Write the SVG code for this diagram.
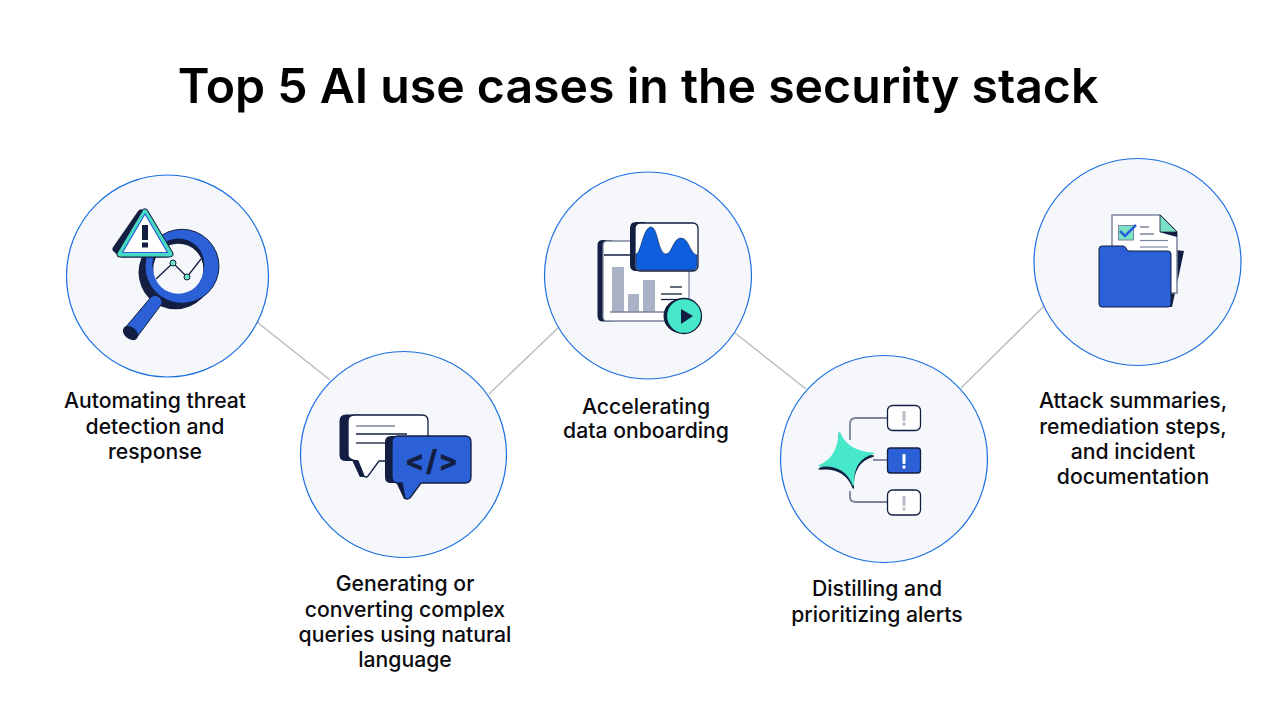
<svg xmlns="http://www.w3.org/2000/svg" width="1281" height="721" viewBox="0 0 1281 721">
<style>
.t{font-family:Inter,"Liberation Sans",sans-serif;font-size:21.200px;font-weight:500;fill:#0b0b0f;text-anchor:middle}
.c{fill:#f5f7fb;stroke:#1a6fe0;stroke-width:1.200}
.n{fill:#131f42}
.b{fill:#2b60d6}
.ln{fill:none;stroke:#131f42;stroke-width:1.300}
.g{fill:none;stroke:#7b849c;stroke-width:1.800}
.tri{stroke-linejoin:round}
</style>
<rect width="1281" height="721" fill="#fff"/>
<text x="638" y="103" style="font-family:Inter,'Liberation Sans',sans-serif;font-size:48.200px;font-weight:600;fill:#000;text-anchor:middle">Top 5 AI use cases in the security stack</text>
<g id="connectors" fill="none" stroke="#b8bac2" stroke-width="1.400">
<line x1="257" y1="322" x2="330" y2="380"/>
<line x1="489" y1="394" x2="559" y2="327"/>
<line x1="735" y1="333" x2="806" y2="389"/>
<line x1="961" y1="388" x2="1044" y2="306"/>
</g>
<g id="node1">
<circle class="c" cx="167.500" cy="276" r="101"/>
<circle class="n" cx="175.500" cy="272.300" r="37"/>
<circle class="b" cx="182" cy="266.300" r="37" stroke="#131f42" stroke-width="1"/>
<circle class="n" cx="178.300" cy="264.500" r="26"/>
<circle cx="178.300" cy="268.700" r="25" fill="#f5f7fb"/>
<path class="ln" d="M156 279L173 263L187 277L201 259"/>
<circle cx="173" cy="263" r="3" fill="#6fe3c5" stroke="#131f42"/>
<circle cx="187" cy="277" r="3" fill="#6fe3c5" stroke="#131f42"/>
<path class="b" stroke="#131f42" d="M151 297Q154 294 158 296L161 299Q163 302 161.700 304L137 337L125 328Z"/>
<ellipse class="n" cx="130.500" cy="333" rx="8.500" ry="6" transform="rotate(40 130.500 333)"/>
<path class="n tri" stroke="#131f42" stroke-width="7" d="M141 213L116 249L122 254L166 254Z"/>
<path class="tri" fill="#131f42" stroke="#131f42" stroke-width="7" d="M145 212L170 254H120Z"/>
<path class="tri" fill="#fff" stroke="#46d9c4" stroke-width="5" d="M145 212L170 254H120Z"/>
<path class="tri" fill="#fff" stroke="#2b60d6" stroke-width="1.200" d="M145 214L167.500 252.500H122.500Z"/>
<rect class="n" x="142" y="225" width="6" height="15"/>
<rect class="n" x="142" y="242.500" width="6" height="5"/>
<text class="t"><tspan x="155" y="407.500">Automating threat</tspan><tspan x="155" y="433.500">detection and</tspan><tspan x="155" y="458.500">response</tspan></text>
</g>
<g id="node2">
<circle class="c" cx="403.500" cy="454.500" r="103"/>
<path class="n" d="M346 414.500H360V460H353L362 477H360L353 461H346Q339.500 461 339.500 455V421Q339.500 414.500 346 414.500Z"/>
<path class="n" d="M352 460H366L366 477H360Z"/>
<path d="M355 415H422Q428 415 428 421V455Q428 461 422 461H379L368 476Q366 478 364 476L358 461Q348 460 348 455V421Q348 415 355 415Z" fill="#fff" stroke="#131f42" stroke-width="1.300"/>
<line x1="356" y1="426" x2="395" y2="426" stroke="#7b849c" stroke-width="1.500"/>
<line class="ln" x1="356" y1="434" x2="407" y2="434"/>
<line class="ln" x1="356" y1="443" x2="386" y2="443"/>
<path class="n" d="M391 436H405V483H391Q385 483 385 477V442Q385 436 391 436Z"/>
<path class="n" d="M396 482H408L408 499H404Z"/>
<path class="b" stroke="#131f42" stroke-width="1.300" d="M398 436H465Q471 436 471 442V477Q471 483 465 483H421L410 498Q407 500 405 498L402 483H398Q392 483 392 477V442Q392 436 398 436Z"/>
<text x="432" y="471" style="font-family:Inter,'Liberation Sans',sans-serif;font-size:29px;font-weight:800;letter-spacing:1px;fill:#131f42;text-anchor:middle">&lt;/&gt;</text>
<text class="t"><tspan x="405" y="590.500">Generating or</tspan><tspan x="405" y="616.500">converting complex</tspan><tspan x="405" y="641.500">queries using natural</tspan><tspan x="405" y="667">language</tspan></text>
</g>
<g id="node3">
<circle class="c" cx="648" cy="275.500" r="103.500"/>
<path class="n" d="M603 240H612V321.500H603Q597.500 321.500 597.500 316V245Q597.500 240 603 240Z"/>
<rect x="603" y="241" width="86" height="80" rx="4" fill="#fff" stroke="#7b849c" stroke-width="1.300"/>
<line class="ln" x1="604" y1="255" x2="640" y2="255"/>
<rect x="612" y="267" width="12" height="45" fill="#aab3c6"/>
<rect x="628" y="294" width="11" height="18" fill="#aab3c6"/>
<rect x="643" y="280" width="12" height="32" fill="#aab3c6"/>
<line x1="610" y1="312" x2="668" y2="312" stroke="#7b849c" stroke-width="1.500"/>
<line class="ln" x1="670" y1="287" x2="682" y2="287"/>
<line class="ln" x1="661" y1="294" x2="682" y2="294"/>
<line class="ln" x1="661" y1="299.500" x2="682" y2="299.500"/>
<path class="n" d="M636 222H645V271H636Q630 271 630 265V228Q630 222 636 222Z"/>
<rect x="635" y="223" width="63" height="48" rx="5" fill="#fff" stroke="#131f42" stroke-width="1.300"/>
<path d="M636 254C641 254 643 227 651 227C658 227 658 254 666 254C672 254 673 238 681 238C689 238 690 254 697 255V265Q697 270 692 270H641Q636 270 636 265Z" fill="#0d5fdd" stroke="#131f42" stroke-width=".6"/>
<circle class="n" cx="680.500" cy="316" r="17"/>
<circle cx="684" cy="316" r="17.500" fill="#46e8c9" stroke="#131f42" stroke-width="1.300"/>
<path class="n" d="M681 309L693 316L681 324Z"/>
<text class="t"><tspan x="646" y="413.500">Accelerating</tspan><tspan x="646" y="437.500">data onboarding</tspan></text>
</g>
<g id="node4">
<circle class="c" cx="884" cy="459" r="103.500"/>
<path class="g" d="M850 440V424Q850 418 856 418H887"/>
<path class="g" d="M873 460H887"/>
<path class="g" d="M850 491V497Q850 502 856 502H887"/>
<rect x="887.500" y="405.500" width="33" height="25" rx="5" fill="#fff" stroke="#131f42" stroke-width="1.300"/>
<rect x="887.500" y="448" width="33" height="25" rx="3" class="b" stroke="#131f42" stroke-width="1.300"/>
<rect x="887.500" y="490" width="33" height="25" rx="5" fill="#fff" stroke="#131f42" stroke-width="1.300"/>
<rect x="902.500" y="411" width="3" height="10" rx="1" fill="#b6bcc9"/><circle cx="904" cy="424" r="1.700" fill="#b6bcc9"/>
<rect x="902.500" y="454" width="3" height="10" rx="1" fill="#fff"/><circle cx="904" cy="467" r="1.700" fill="#fff"/>
<rect x="902.500" y="496" width="3" height="10" rx="1" fill="#b6bcc9"/><circle cx="904" cy="509" r="1.700" fill="#b6bcc9"/>
<path class="n tri" stroke="#131f42" stroke-width="1.500" d="M839.300 435Q847 455 873.300 456Q852 462 853.300 488Q845 466 819.300 469Q839 460 839.300 435Z"/>
<path class="tri" fill="#46e8c9" stroke="#46e8c9" stroke-width="1.500" d="M839.300 432.300Q847 452 873.300 453.300Q852 459 853.300 485Q845 463 819.300 466Q839 457 839.300 432.300Z"/>
<text class="t"><tspan x="877" y="595.500">Distilling and</tspan><tspan x="877" y="621.500">prioritizing alerts</tspan></text>
</g>
<g id="node5">
<circle class="c" cx="1137.500" cy="262" r="103.500"/>
<path class="n" d="M1176 250L1184 251L1172 307L1166 307Z"/>
<path d="M1112 215H1160L1177 232V293H1112Z" fill="#fff" stroke="#7b849c" stroke-width="1.500"/>
<path d="M1160 215L1177 232L1177 237L1166 234L1160 232Z" fill="#131f42"/>
<path d="M1160 215L1177 232H1160Z" fill="#7be3c5" stroke="#131f42" stroke-width=".8"/>
<rect x="1118.500" y="225.500" width="15" height="14.500" fill="#7be3c5" stroke="#7b849c"/>
<path d="M1120 231L1125 236L1136 225" fill="none" stroke="#2b60d6" stroke-width="2.500"/>
<line x1="1140" y1="227" x2="1149" y2="227" stroke="#7b849c" stroke-width="1.500"/>
<line x1="1140" y1="234" x2="1154" y2="234" stroke="#7b849c" stroke-width="1.500"/>
<line x1="1140" y1="240.500" x2="1168" y2="240.500" stroke="#7b849c" stroke-width="1.200"/>
<line x1="1140" y1="247" x2="1168" y2="247" stroke="#7b849c" stroke-width="1.200"/>
<path class="b" stroke="#131f42" d="M1102 246H1123Q1125 246 1126 248L1127 250Q1128 251 1130 251H1168Q1171 251 1171 254V304Q1171 307 1168 307H1102Q1099 307 1099 304V249Q1099 246 1102 246Z"/>
<text class="t"><tspan x="1133" y="407.500">Attack summaries,</tspan><tspan x="1133" y="433.500">remediation steps,</tspan><tspan x="1133" y="458.500">and incident</tspan><tspan x="1133" y="483.500">documentation</tspan></text>
</g>
</svg>
